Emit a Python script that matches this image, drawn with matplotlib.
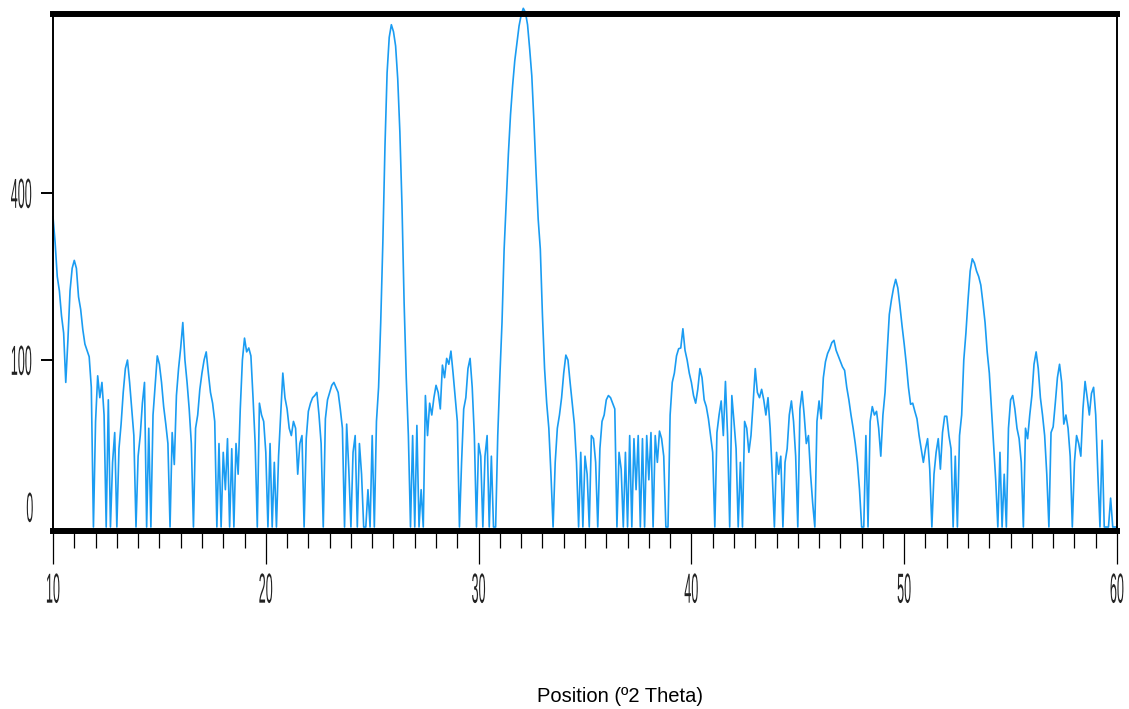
import numpy as np
import matplotlib
matplotlib.use("Agg")
import matplotlib.pyplot as plt
from matplotlib.patheffects import AbstractPathEffect
from matplotlib.transforms import Affine2D, ScaledTranslation
from matplotlib.ticker import MultipleLocator

# scan range (degrees 2-theta), counts sampled every 0.1 deg
two_theta_start = 10.0
two_theta_end = 60.0
counts = [
    345, 290, 225, 200, 160, 135, 75, 125, 200, 240,      # 10
    255, 240, 190, 170, 140, 120, 112, 104, 70, 0,        # 11
    40, 82, 60, 75, 45, 0, 58, 0, 15, 32,                 # 12
    0, 22, 38, 65, 90, 100, 75, 50, 30, 0,                # 13
    18, 30, 55, 75, 0, 35, 0, 45, 72, 105,                # 14
    95, 75, 52, 38, 25, 0, 32, 14, 62, 90,                # 15
    115, 150, 100, 75, 50, 25, 0, 35, 45, 68,             # 16
    85, 100, 110, 85, 65, 55, 40, 0, 25, 0,               # 17
    20, 5, 28, 0, 22, 0, 25, 10, 50, 100,                 # 18
    128, 110, 115, 105, 60, 25, 0, 55, 45, 40,            # 19
    20, 0, 25, 0, 15, 0, 18, 45, 85, 60,                  # 20
    50, 35, 30, 40, 35, 10, 25, 30, 0, 28,                # 21
    48, 55, 60, 62, 65, 45, 25, 0, 42, 58,                # 22
    65, 72, 75, 70, 65, 50, 35, 0, 38, 12,                # 23
    0, 20, 30, 0, 25, 10, 0, 0, 5, 0,                     # 24
    30, 0, 40, 70, 150, 290, 520, 740, 860, 905,          # 25
    880, 830, 720, 560, 370, 180, 80, 30, 0, 30,          # 26
    0, 37, 0, 5, 0, 62, 30, 55, 45, 60,                   # 27
    72, 65, 50, 94, 80, 102, 95, 111, 85, 60,             # 28
    40, 0, 15, 50, 60, 90, 102, 70, 30, 0,                # 29
    25, 18, 0, 18, 30, 0, 18, 0, 0, 30,                   # 30
    82, 150, 277, 380, 500, 610, 700, 780, 840, 900,      # 31
    940, 965, 950, 905, 820, 730, 590, 450, 340, 277,     # 32
    161, 90, 55, 35, 10, 0, 15, 35, 45, 60,               # 33
    85, 106, 100, 75, 55, 38, 15, 0, 20, 0,               # 34
    18, 10, 0, 30, 28, 15, 0, 22, 40, 45,                 # 35
    58, 62, 60, 55, 50, 0, 20, 12, 0, 20,                 # 36
    0, 30, 0, 28, 5, 30, 0, 28, 0, 30,                    # 37
    8, 32, 0, 30, 15, 33, 28, 18, 0, 0,                   # 38
    45, 75, 85, 105, 114, 115, 141, 112, 100, 85,         # 39
    75, 62, 55, 68, 90, 80, 58, 52, 42, 30,               # 40
    20, 0, 32, 45, 57, 30, 76, 30, 0, 62,                 # 41
    40, 22, 0, 15, 0, 40, 35, 20, 30, 55,                 # 42
    90, 65, 60, 68, 58, 45, 60, 35, 10, 0,                # 43
    20, 10, 18, 0, 15, 22, 45, 57, 40, 18,                # 44
    0, 50, 66, 45, 25, 30, 10, 2, 0, 40,                  # 45
    57, 42, 80, 98, 108, 114, 122, 125, 112, 105,         # 46
    98, 92, 88, 70, 58, 45, 35, 25, 15, 5,                # 47
    0, 0, 30, 0, 40, 52, 45, 48, 35, 18,                  # 48
    45, 65, 110, 162, 185, 205, 220, 205, 175, 145,       # 49
    120, 95, 70, 54, 55, 48, 42, 30, 22, 15,              # 50
    22, 28, 12, 0, 10, 20, 28, 12, 32, 44,                # 51
    44, 30, 22, 0, 18, 0, 30, 45, 100, 135,               # 52
    185, 235, 258, 250, 235, 225, 210, 180, 150, 110,     # 53
    85, 50, 25, 8, 0, 20, 0, 10, 0, 35,                   # 54
    58, 62, 50, 35, 28, 15, 0, 35, 28, 45,                # 55
    62, 95, 110, 90, 60, 45, 30, 10, 0, 32,               # 56
    36, 55, 80, 95, 75, 38, 45, 35, 18, 0,                # 57
    15, 30, 25, 18, 50, 76, 60, 45, 64, 70,               # 58
    45, 10, 0, 27, 0, 0, 0, 3, 0, 0,                      # 59
    0,
]
x_ticks = [10, 20, 30, 40, 50, 60]
y_ticks = [0, 100, 400]
x_title = "Position (º2 Theta)"

two_theta = np.linspace(two_theta_start, two_theta_end, len(counts))


class Stretch(AbstractPathEffect):
    """Squeeze/stretch glyphs about their own centre."""

    def __init__(self, sx, sy):
        super().__init__()
        self.sx, self.sy = sx, sy

    def draw_path(self, renderer, gc, tpath, affine, rgbFace=None):
        ext = tpath.get_extents()
        cx, cy = ext.x0 + ext.width / 2, ext.y0 + ext.height / 2
        squash = Affine2D().translate(-cx, -cy).scale(self.sx, self.sy).translate(cx, cy)
        renderer.draw_path(gc, tpath, squash + affine, rgbFace)


# square-root intensity axis
def fwd(y):
    return np.sign(y) * np.sqrt(np.abs(y))


def inv(y):
    return np.sign(y) * y ** 2


W, H = 1129, 709
fig = plt.figure(figsize=(W / 100, H / 100), dpi=100)
ax = fig.add_axes([53 / W, 1 - 531 / H, 1064 / W, 517 / H])

ax.plot(two_theta, counts, color="#1a9cf2", lw=1.2, clip_on=False)

ax.set_yscale("function", functions=(fwd, inv))
ax.set_xlim(two_theta_start, two_theta_end)
ax.set_ylim(-0.057, 944)

for side in ("top", "bottom"):
    ax.spines[side].set_linewidth(4.3)
for side in ("left", "right"):
    ax.spines[side].set_linewidth(1.4)

ax.set_xticks(x_ticks)
ax.xaxis.set_minor_locator(MultipleLocator(1))
ax.set_yticks(y_ticks)
ax.tick_params(axis="x", which="major", length=24, width=0.9, pad=13,
               labelsize=10.8, labelcolor="#222222")
ax.tick_params(axis="x", which="minor", length=12, width=0.9)
ax.tick_params(axis="y", which="major", length=8.6, width=1.4, pad=5,
               labelsize=10.8, labelcolor="#222222")

# zero label sits above the baseline, no tick line
zero_tick = ax.yaxis.get_major_ticks()[0]
zero_tick.tick1line.set_visible(False)
zero_tick.label1.set_transform(zero_tick.label1.get_transform()
                               + ScaledTranslation(0, 0.2, fig.dpi_scale_trans))

for lab in ax.get_xticklabels() + ax.get_yticklabels():
    lab.set_fontfamily(["Liberation Sans Narrow", "Liberation Sans", "DejaVu Sans"])
    lab.set_path_effects([Stretch(0.84, 2.8)])

fig.text(620 / W, 1 - 697 / H, x_title, ha="center", va="center",
         fontsize=14.5, family=["Liberation Sans", "DejaVu Sans"])

fig.savefig("out.png", dpi=100)
